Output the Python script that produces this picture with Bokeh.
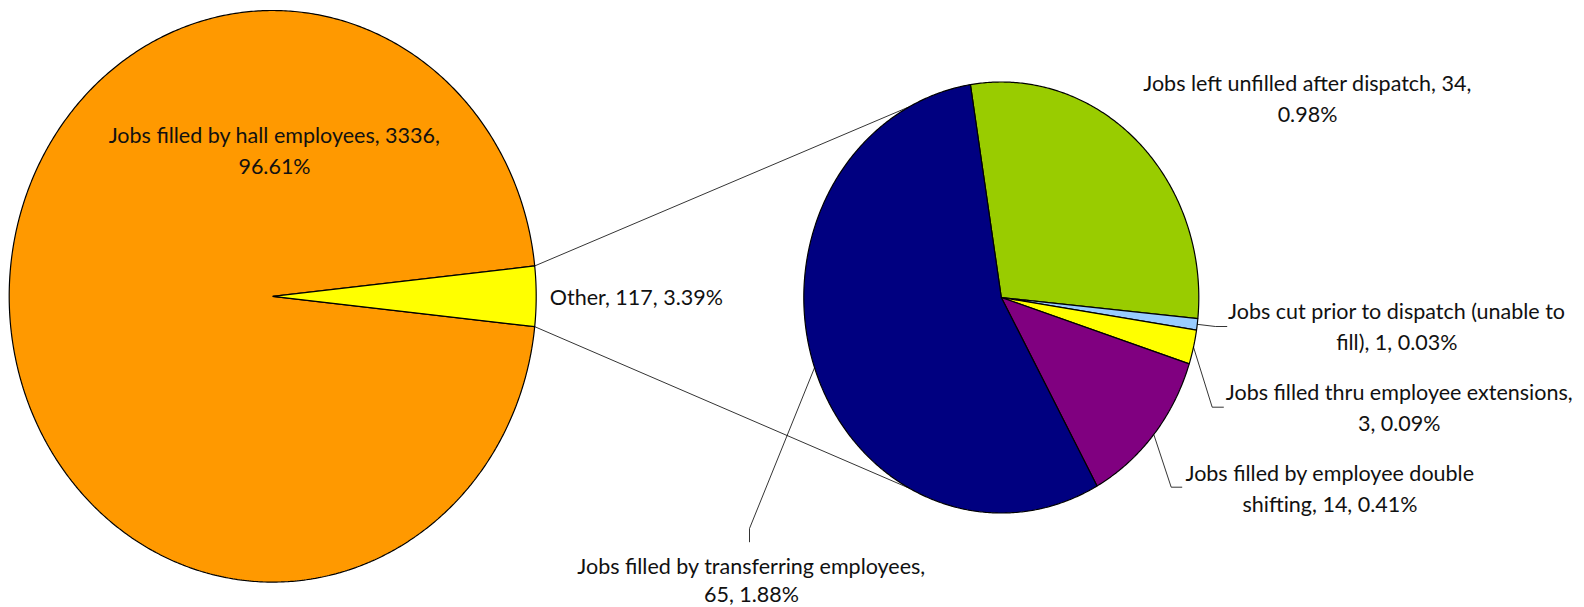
import math
from bokeh.plotting import figure
from bokeh.models import Range1d
from bokeh.core.properties import value
from bokeh.embed import file_html
from bokeh.resources import INLINE

# ---------------- data ----------------
main_names = ["Jobs filled by hall employees", "Other"]
main_values = [3336, 117]
main_colors = ["#FF9900", "#FFFF00"]

sub_names = [
    "Jobs left unfilled after dispatch",
    "Jobs cut prior to dispatch (unable to fill)",
    "Jobs filled thru employee extensions",
    "Jobs filled by employee double shifting",
    "Jobs filled by transferring employees",
]
sub_values = [34, 1, 3, 14, 65]
sub_colors = ["#99CC00", "#99CCFF", "#FFFF00", "#800080", "#000080"]

# label wrapping as it appears in the chart
main_label_lines = [
    ["Jobs filled by hall employees, 3336,", "96.61%"],
    ["Other, 117, 3.39%"],
]
sub_label_lines = [
    ["Jobs left unfilled after dispatch, 34,", "0.98%"],
    ["Jobs cut prior to dispatch (unable to", "fill), 1, 0.03%"],
    ["Jobs filled thru employee extensions,", "3, 0.09%"],
    ["Jobs filled by employee double", "shifting, 14, 0.41%"],
    ["Jobs filled by transferring employees,", "65, 1.88%"],
]

# ---------------- layout (page pixels) ----------------
L = dict(cx=272.2, cy=295.8, rx=263.5, ry=285.8)
R = dict(cx=1000.8, cy=297.0, rx=197.5, ry=215.5)
FONT = value("Lato")
FSIZE = "21.5px"
LINE_GAP = 31

p = figure(width=1584, height=607, x_range=Range1d(0, 1584), y_range=Range1d(607, 0),
           output_backend="svg", toolbar_location=None, min_border=0)
p.axis.visible = False
p.grid.visible = False
p.outline_line_color = None
p.background_fill_color = "white"


def pt(c, ang):
    a = math.radians(ang)
    return c["cx"] + c["rx"] * math.sin(a), c["cy"] - c["ry"] * math.cos(a)


def wedge(c, a0, a1):
    n = max(4, int(abs(a1 - a0) * 2))
    xs, ys = [c["cx"]], [c["cy"]]
    for i in range(n + 1):
        x, y = pt(c, a0 + (a1 - a0) * i / n)
        xs.append(x)
        ys.append(y)
    return xs, ys


# main pie: "Other" centred on the right
tot_main = sum(main_values)
other_span = main_values[1] / tot_main * 360
o0, o1 = 90 - other_span / 2, 90 + other_span / 2
main_angles = [(o1, o0 + 360), (o0, o1)]
xs, ys = [], []
for a0, a1 in main_angles:
    wx, wy = wedge(L, a0, a1)
    xs.append(wx)
    ys.append(wy)
p.patches(xs, ys, fill_color=main_colors, line_color="black", line_width=1.2)

# sub pie
tot_sub = sum(sub_values)
start = -9.0
sxs, sys_, mids = [], [], []
a = start
for v in sub_values:
    span = v / tot_sub * 360
    wx, wy = wedge(R, a, a + span)
    sxs.append(wx)
    sys_.append(wy)
    mids.append(a + span / 2)
    a += span
p.patches(sxs, sys_, fill_color=sub_colors, line_color="black", line_width=1.2)

# connector lines between pies
top_main = pt(L, o0)
bot_main = pt(L, o1)
top_sub = pt(R, 332.3)
bot_sub = pt(R, 207.7)
p.segment(x0=[top_main[0], bot_main[0]], y0=[top_main[1], bot_main[1]],
          x1=[top_sub[0], bot_sub[0]], y1=[top_sub[1], bot_sub[1]],
          line_color="black", line_width=0.8)

# leader lines for sub-pie labels (elbow + end positions are layout)
leaders = {
    1: [(1215, 326), (1226.7, 326)],
    2: [(1211.7, 406.7), (1223.3, 406.7)],
    3: [(1170.7, 486.7), (1181.7, 486.7)],
    4: [(749, 528), (749, 541.7)],
}
lx, ly = [], []
for i, rest in leaders.items():
    sx, sy = pt(R, mids[i])
    lx.append([sx] + [q[0] for q in rest])
    ly.append([sy] + [q[1] for q in rest])
p.multi_line(lx, ly, line_color="black", line_width=0.8)

# label positions: centre x, first line y, line gap
main_label_pos = [(274, 134.4, LINE_GAP), None]
sub_label_pos = [(1307, 82.3, LINE_GAP), (1396.3, 310, LINE_GAP), (1398.7, 391.7, LINE_GAP),
                 (1329.5, 472.7, LINE_GAP), (751, 565, 28)]

tx, ty, tt = [], [], []
for lines, pos in zip(main_label_lines, main_label_pos):
    if pos is None:
        continue
    for k, s in enumerate(lines):
        tx.append(pos[0]); ty.append(pos[1] + k * pos[2]); tt.append(s)
for lines, pos in zip(sub_label_lines, sub_label_pos):
    for k, s in enumerate(lines):
        tx.append(pos[0]); ty.append(pos[1] + k * pos[2]); tt.append(s)
p.text(x=tx, y=ty, text=tt, text_font=FONT, text_font_size=FSIZE, text_align="center",
       text_baseline="middle", text_color="#111111")
# "Other" label, left aligned next to the slice
p.text(x=[549.3], y=[296.7], text=[main_label_lines[1][0]], text_font=FONT, text_font_size=FSIZE,
       text_align="left", text_baseline="middle", text_color="#111111")

open("out.html", "w").write(file_html(p, INLINE))
